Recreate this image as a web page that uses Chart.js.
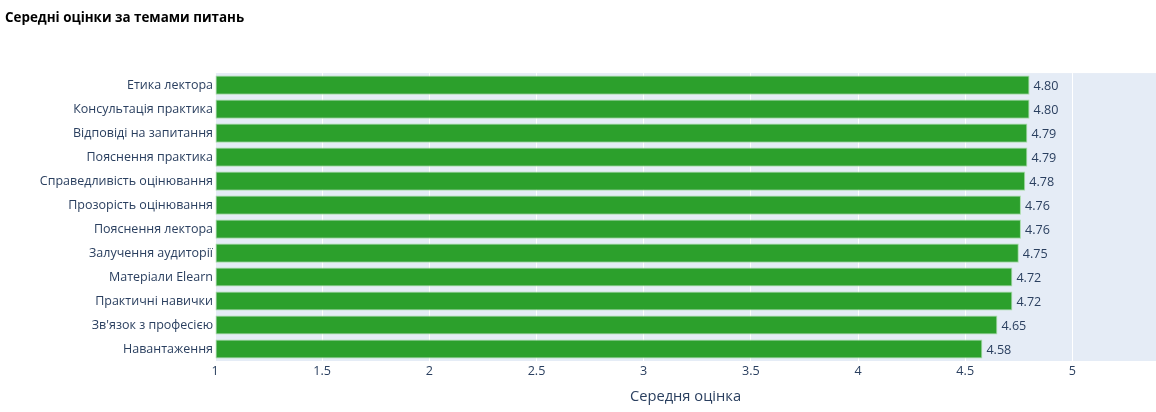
<!DOCTYPE html>
<html>
<head>
<meta charset="utf-8">
<script src="https://cdn.jsdelivr.net/npm/chart.js@4/dist/chart.umd.min.js"></script>
<style>
  html, body { margin: 0; padding: 0; background: #fff; }
  #wrap { width: 1156px; height: 412px; }
</style>
</head>
<body>
<div id="wrap"><canvas id="myCanvasBarGraph"></canvas></div>
<script>
// topics, top to bottom
var topics = [
	'Етика лектора',
	'Консультація практика',
	'Відповіді на запитання',
	'Пояснення практика',
	'Справедливість оцінювання',
	'Прозорість оцінювання',
	'Пояснення лектора',
	'Залучення аудиторії',
	'Матеріали Elearn',
	'Практичні навички',
	"Зв'язок з професією",
	'Навантаження'
];
var scores = [4.80, 4.80, 4.79, 4.79, 4.78, 4.76, 4.76, 4.75, 4.72, 4.72, 4.65, 4.58];
var xTicks = [1, 1.5, 2, 2.5, 3, 3.5, 4, 4.5, 5];

var font = '"Open Sans", verdana, arial, sans-serif';
var textColor = '#2a3f5f';

// value labels just past the end of each bar
var barLabels = {
	id: 'barLabels',
	afterDatasetsDraw: function(chart){
		var ctx = chart.ctx;
		var meta = chart.getDatasetMeta(0);
		ctx.save();
		ctx.font = '12.6px ' + font;
		ctx.fillStyle = textColor;
		ctx.textAlign = 'left';
		ctx.textBaseline = 'middle';
		meta.data.forEach(function(bar, i){
			ctx.fillText(scores[i].toFixed(2), bar.x + 4, bar.y + 1);
		});
		ctx.restore();
	}
};

var chartdata = {
	labels: topics,
	datasets: [
		{
			data: scores,
			backgroundColor: '#2ca02c',
			borderColor: '#a8dca8',
			borderWidth: 1,
			borderSkipped: false,
			categoryPercentage: 1,
			barPercentage: 0.8,
			base: 1
		}
	]
};

var ctx = document.getElementById('myCanvasBarGraph');

var barGraph = new Chart(ctx, {
	type: 'bar',
	data: chartdata,
	plugins: [barLabels, {
		id: 'plotBg',
		beforeDraw: function(chart){
			var a = chart.chartArea;
			chart.ctx.save();
			chart.ctx.fillStyle = '#e5ecf6';
			chart.ctx.fillRect(a.left, a.top, a.right - a.left, a.bottom - a.top);
			chart.ctx.restore();
		}
	}],
	options: {
		indexAxis: 'y',
		responsive: true,
		maintainAspectRatio: false,
		animation: false,
		layout: { padding: { left: 5, right: 0, top: 0, bottom: 0 } },
		plugins: {
			legend: { display: false },
			tooltip: { enabled: false },
			title: {
				display: true,
				text: 'Середні оцінки за темами питань',
				align: 'start',
				color: '#000',
				font: { family: font, size: 13.4, weight: 'bold' },
				padding: { top: 10, bottom: 47 }
			}
		},
		scales: {
			x: {
				type: 'linear',
				min: 1,
				max: 5.39,
				afterBuildTicks: function(scale){
					scale.ticks = xTicks.map(function(v){ return { value: v }; });
				},
				afterFit: function(scale){ scale.height = 51; },
				grid: { color: '#ffffff', lineWidth: 1, drawTicks: false },
				border: { display: false },
				ticks: {
					color: textColor,
					font: { family: font, size: 12.6 },
					padding: 3,
					maxRotation: 0,
					callback: function(v){ return String(v); }
				},
				title: {
					display: true,
					text: 'Середня оцінка',
					color: textColor,
					font: { family: font, size: 14.7 },
					padding: { top: 4, bottom: 6 }
				}
			},
			y: {
				afterFit: function(scale){ scale.width = 210; },
				grid: { display: false, drawTicks: false },
				border: { display: false },
				ticks: {
					color: textColor,
					font: { family: font, size: 12.5 },
					padding: 2,
					autoSkip: false
				}
			}
		}
	}
});
</script>
</body>
</html>
